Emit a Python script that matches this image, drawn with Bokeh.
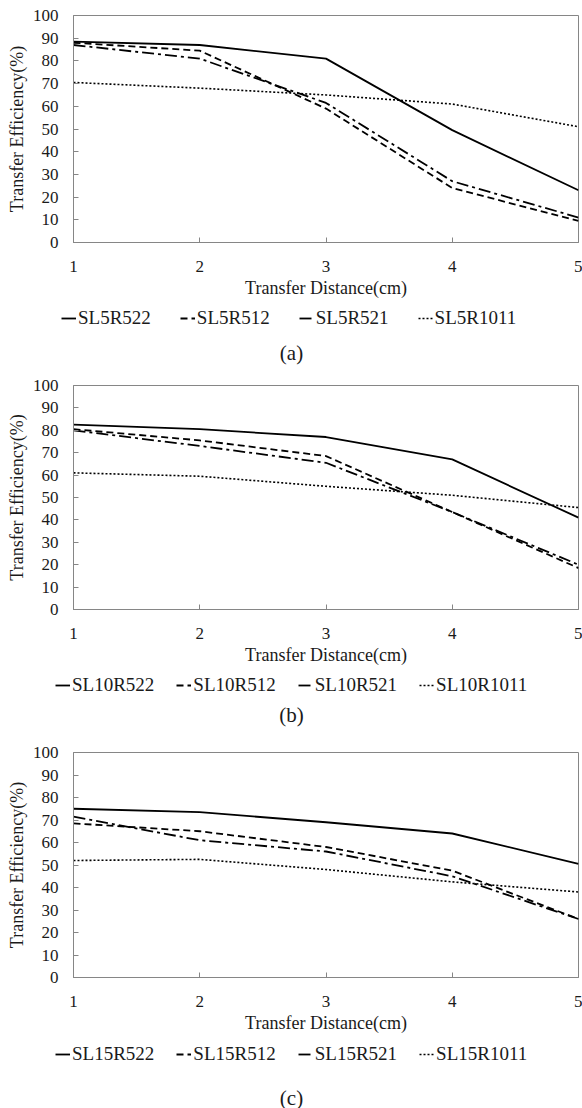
from bokeh.plotting import figure
from bokeh.layouts import column
from bokeh.models import Legend, LegendItem, Label, FixedTicker, Range1d
from bokeh.embed import file_html
from bokeh.resources import INLINE

# ---------------- data ----------------
distance = [1, 2, 3, 4, 5]
x_ticks = [1, 2, 3, 4, 5]
y_ticks = [0, 10, 20, 30, 40, 50, 60, 70, 80, 90, 100]

names_a = ["SL5R522", "SL5R512", "SL5R521", "SL5R1011"]
a_r522 = [88.5, 87, 81, 49.5, 23]
a_r512 = [88, 84.5, 59, 24, 9.5]
a_r521 = [87, 81, 61.5, 27, 11]
a_r1011 = [70.5, 68, 65, 61, 51]

names_b = ["SL10R522", "SL10R512", "SL10R521", "SL10R1011"]
b_r522 = [82.5, 80.5, 77, 67, 41]
b_r512 = [80.5, 75.5, 68.5, 43.5, 18.5]
b_r521 = [80, 73, 65.5, 43.5, 20]
b_r1011 = [61, 59.5, 55, 51, 45.5]

names_c = ["SL15R522", "SL15R512", "SL15R521", "SL15R1011"]
c_r522 = [75, 73.5, 69, 64, 50.5]
c_r512 = [68.5, 65, 58, 47.5, 26]
c_r521 = [71.5, 61, 56, 45, 26]
c_r1011 = [52, 52.5, 48, 42.5, 38]

captions = ["(a)", "(b)", "(c)"]

FONT = "Liberation Serif"
AXIS_COL = "#868686"
TEXT_COL = "#1a1a1a"
PAGE_W = 582
LEFT = 73
RIGHT = 4

styles = [
    dict(line_dash="solid", line_width=1.8),
    dict(line_dash="7 4", line_width=1.8),
    dict(line_dash="12 4 3 4", line_width=1.8),
    dict(line_dash="2 2", line_width=1.6),
]


def make_main(series, top_border, frame_h, bottom_border):
    p = figure(width=PAGE_W, height=top_border + frame_h + bottom_border,
               output_backend="svg", toolbar_location=None, tools="",
               x_range=Range1d(1, 5), y_range=Range1d(0, 100),
               min_border_left=LEFT, min_border_right=RIGHT,
               min_border_top=top_border, min_border_bottom=bottom_border)
    p.background_fill_color = "white"
    p.border_fill_color = "white"
    p.outline_line_color = AXIS_COL
    p.outline_line_width = 1
    p.xgrid.visible = False
    p.ygrid.visible = False

    for ax in (p.xaxis[0], p.yaxis[0]):
        ax.axis_line_color = AXIS_COL
        ax.major_tick_line_color = AXIS_COL
        ax.major_tick_in = 5
        ax.major_tick_out = 0
        ax.minor_tick_line_color = None
        ax.major_label_text_font = FONT
        ax.major_label_text_font_size = "17px"
        ax.major_label_text_color = TEXT_COL
        ax.axis_label_text_font = FONT
        ax.axis_label_text_font_size = "18px"
        ax.axis_label_text_font_style = "normal"
        ax.axis_label_text_color = TEXT_COL

    p.xaxis.ticker = FixedTicker(ticks=x_ticks)
    p.yaxis.ticker = FixedTicker(ticks=y_ticks)
    p.xaxis.axis_label = "Transfer Distance(cm)"
    p.yaxis.axis_label = "Transfer Efficiency(%)"
    p.xaxis.major_label_standoff = 18
    p.xaxis.axis_label_standoff = 3
    p.yaxis.major_label_standoff = 15
    p.yaxis.axis_label_standoff = 3

    for vals, st in zip(series, styles):
        p.line(distance, vals, line_color="black", **st)
    return p


def make_footer(series, names, caption, height, legend_x, legend_spacing,
                legend_center_from_top, caption_from_top):
    f = figure(width=PAGE_W, height=height, output_backend="svg",
               toolbar_location=None, tools="", frame_align=False,
               x_range=Range1d(0, PAGE_W), y_range=Range1d(0, height),
               x_axis_type=None, y_axis_type=None,
               min_border_left=0, min_border_right=0,
               min_border_top=0, min_border_bottom=0)
    f.outline_line_color = None
    f.background_fill_color = "white"
    f.border_fill_color = "white"

    items = []
    for vals, name, st in zip(series, names, styles):
        r = f.line(distance, vals, line_color="black", visible=False, **st)
        items.append(LegendItem(label=name, renderers=[r]))

    row_h = 22
    vy = height - legend_center_from_top - row_h / 2
    legend = Legend(items=items, orientation="horizontal", location=(legend_x, vy),
                    padding=0, margin=0, spacing=legend_spacing,
                    glyph_width=15, glyph_height=20,
                    label_height=20, label_standoff=2,
                    label_text_font=FONT, label_text_font_size="19px",
                    label_text_color=TEXT_COL,
                    border_line_color=None, background_fill_alpha=0)
    f.add_layout(legend)

    cap = Label(x=PAGE_W / 2, y=height - caption_from_top, text=caption,
                text_align="center", text_baseline="middle", text_font=FONT,
                text_font_size="21px", text_color=TEXT_COL)
    f.add_layout(cap)
    return f


sa = [a_r522, a_r512, a_r521, a_r1011]
sb = [b_r522, b_r512, b_r521, b_r1011]
sc = [c_r522, c_r512, c_r521, c_r1011]

pa = make_main(sa, 15, 227, 62)
fa = make_footer(sa, names_a, captions[0], 69, 61, 29, 14, 48)
pb = make_main(sb, 12, 224, 62)
fb = make_footer(sb, names_b, captions[1], 69, 55, 22, 14, 43)
pc = make_main(sc, 12, 225, 62)
fc = make_footer(sc, names_c, captions[2], 69, 55, 22, 15, 58)

layout = column(pa, fa, pb, fb, pc, fc, spacing=0)
open("out.html", "w").write(file_html(layout, INLINE))
